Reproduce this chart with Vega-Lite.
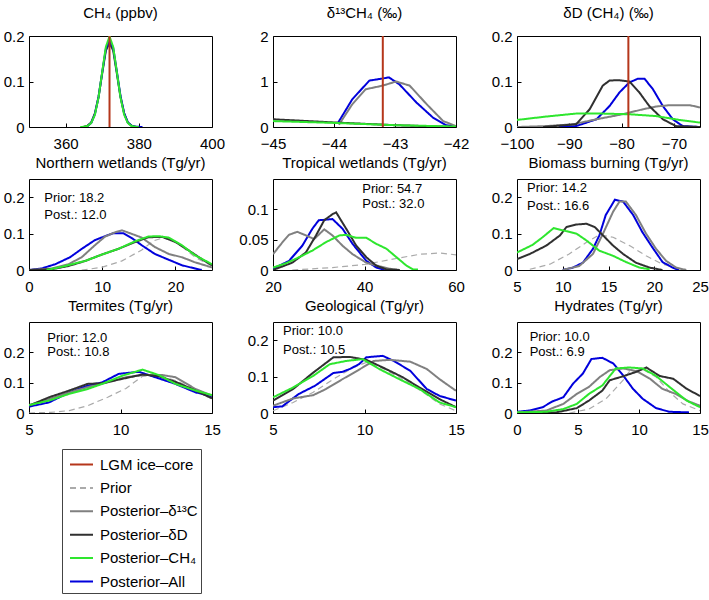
{
"$schema": "https://vega.github.io/schema/vega-lite/v6.json",
"padding": {"left": 2, "top": 5, "right": 2, "bottom": 2},
"config": {
  "font": "Liberation Sans",
  "view": {"stroke": "#000", "strokeWidth": 1},
  "axis": {"grid": false, "domain": false, "labelFontSize": 15, "labelColor": "#000", "tickColor": "#000", "tickSize": -4, "labelPadding": 11, "labelFlush": false, "labelOverlap": false, "labelFont": "Liberation Sans"},
  "axisX": {"labelFontSize": 15, "labelPadding": 13},
  "axisY": {"labelFontSize": 15, "labelPadding": 9},
  "title": {"fontSize": 15, "fontWeight": "normal", "offset": 8, "color": "#000", "font": "Liberation Sans"},
  "legend": {"symbolType": "stroke", "symbolSize": 529, "symbolStrokeWidth": 2, "labelFontSize": 15, "labelColor": "#000", "strokeColor": "#444", "padding": 3, "rowPadding": 2.4, "labelOffset": 6, "symbolOffset": 4}
},
"datasets": {
"n": [
{"p":4,"t":"Prior: 18.2","x":2.1,"y":0.199},{"p":4,"t":"Post.: 12.0","x":2.1,"y":0.15},
{"p":5,"t":"Prior: 54.7","x":39.5,"y":0.134},{"p":5,"t":"Post.: 32.0","x":39.5,"y":0.108},
{"p":6,"t":"Prior: 14.2","x":6.1,"y":0.225},{"p":6,"t":"Post.: 16.6","x":6.1,"y":0.175},
{"p":7,"t":"Prior: 12.0","x":6.0,"y":0.246},{"p":7,"t":"Post.: 10.8","x":6.0,"y":0.2},
{"p":8,"t":"Prior: 10.0","x":5.55,"y":0.224},{"p":8,"t":"Post.: 10.5","x":5.55,"y":0.174},
{"p":9,"t":"Prior: 10.0","x":1.04,"y":0.25},{"p":9,"t":"Post.: 6.9","x":1.04,"y":0.202}
],
"c": [
{"p":1,"s":"LGM ice–core","x":372,"y":0},
{"p":1,"s":"Posterior–δD","x":365,"y":0.0005},{"p":1,"s":"Posterior–δD","x":366,"y":0.003},{"p":1,"s":"Posterior–δD","x":367,"y":0.01},{"p":1,"s":"Posterior–δD","x":368,"y":0.03},{"p":1,"s":"Posterior–δD","x":369,"y":0.066},{"p":1,"s":"Posterior–δD","x":370,"y":0.118},{"p":1,"s":"Posterior–δD","x":371,"y":0.168},{"p":1,"s":"Posterior–δD","x":372,"y":0.185},{"p":1,"s":"Posterior–δD","x":373,"y":0.168},{"p":1,"s":"Posterior–δD","x":374,"y":0.118},{"p":1,"s":"Posterior–δD","x":375,"y":0.066},{"p":1,"s":"Posterior–δD","x":376,"y":0.03},{"p":1,"s":"Posterior–δD","x":377,"y":0.01},{"p":1,"s":"Posterior–δD","x":378,"y":0.003},{"p":1,"s":"Posterior–δD","x":379,"y":0.0005},
{"p":1,"s":"Posterior–All","x":366,"y":0.002},{"p":1,"s":"Posterior–All","x":367,"y":0.009},{"p":1,"s":"Posterior–All","x":368,"y":0.028},{"p":1,"s":"Posterior–All","x":369,"y":0.066},{"p":1,"s":"Posterior–All","x":370,"y":0.12},{"p":1,"s":"Posterior–All","x":371,"y":0.172},{"p":1,"s":"Posterior–All","x":372,"y":0.19},{"p":1,"s":"Posterior–All","x":373,"y":0.174},{"p":1,"s":"Posterior–All","x":374,"y":0.122},{"p":1,"s":"Posterior–All","x":375,"y":0.068},{"p":1,"s":"Posterior–All","x":376,"y":0.03},{"p":1,"s":"Posterior–All","x":377,"y":0.01},{"p":1,"s":"Posterior–All","x":378,"y":0.003},{"p":1,"s":"Posterior–All","x":379,"y":0.001},{"p":1,"s":"Posterior–All","x":381,"y":0},
{"p":1,"s":"Posterior–CH₄","x":364,"y":0.0001},{"p":1,"s":"Posterior–CH₄","x":365,"y":0.0004},{"p":1,"s":"Posterior–CH₄","x":366,"y":0.0022},{"p":1,"s":"Posterior–CH₄","x":367,"y":0.0088},{"p":1,"s":"Posterior–CH₄","x":368,"y":0.027},{"p":1,"s":"Posterior–CH₄","x":369,"y":0.065},{"p":1,"s":"Posterior–CH₄","x":370,"y":0.121},{"p":1,"s":"Posterior–CH₄","x":371,"y":0.176},{"p":1,"s":"Posterior–CH₄","x":372,"y":0.199},{"p":1,"s":"Posterior–CH₄","x":373,"y":0.176},{"p":1,"s":"Posterior–CH₄","x":374,"y":0.121},{"p":1,"s":"Posterior–CH₄","x":375,"y":0.065},{"p":1,"s":"Posterior–CH₄","x":376,"y":0.027},{"p":1,"s":"Posterior–CH₄","x":377,"y":0.0088},{"p":1,"s":"Posterior–CH₄","x":378,"y":0.0022},{"p":1,"s":"Posterior–CH₄","x":379,"y":0.0004},{"p":1,"s":"Posterior–CH₄","x":380,"y":0.0001},

{"p":2,"s":"LGM ice–core","x":-43.2,"y":0},
{"p":2,"s":"Posterior–All","x":-43.93,"y":0.1},{"p":2,"s":"Posterior–All","x":-43.7,"y":0.61},{"p":2,"s":"Posterior–All","x":-43.42,"y":1.02},{"p":2,"s":"Posterior–All","x":-43.23,"y":1.06},{"p":2,"s":"Posterior–All","x":-43.1,"y":1.09},{"p":2,"s":"Posterior–All","x":-42.93,"y":0.94},{"p":2,"s":"Posterior–All","x":-42.65,"y":0.54},{"p":2,"s":"Posterior–All","x":-42.38,"y":0.21},{"p":2,"s":"Posterior–All","x":-42.16,"y":0.04},{"p":2,"s":"Posterior–All","x":-42.0,"y":0.01},
{"p":2,"s":"Posterior–δ¹³C","x":-43.92,"y":0.05},{"p":2,"s":"Posterior–δ¹³C","x":-43.7,"y":0.5},{"p":2,"s":"Posterior–δ¹³C","x":-43.48,"y":0.83},{"p":2,"s":"Posterior–δ¹³C","x":-43.2,"y":0.91},{"p":2,"s":"Posterior–δ¹³C","x":-42.98,"y":1.0},{"p":2,"s":"Posterior–δ¹³C","x":-42.76,"y":0.91},{"p":2,"s":"Posterior–δ¹³C","x":-42.48,"y":0.5},{"p":2,"s":"Posterior–δ¹³C","x":-42.21,"y":0.13},{"p":2,"s":"Posterior–δ¹³C","x":-42.0,"y":0.02},
{"p":2,"s":"Posterior–δD","x":-45,"y":0.17},{"p":2,"s":"Posterior–δD","x":-44,"y":0.1},{"p":2,"s":"Posterior–δD","x":-43,"y":0.04},{"p":2,"s":"Posterior–δD","x":-42,"y":0.0},
{"p":2,"s":"Posterior–CH₄","x":-45,"y":0.13},{"p":2,"s":"Posterior–CH₄","x":-44,"y":0.09},{"p":2,"s":"Posterior–CH₄","x":-43,"y":0.04},{"p":2,"s":"Posterior–CH₄","x":-42,"y":0.01},

{"p":3,"s":"LGM ice–core","x":-78.7,"y":0},
{"p":3,"s":"Posterior–All","x":-92,"y":0},{"p":3,"s":"Posterior–All","x":-88.7,"y":0.002},{"p":3,"s":"Posterior–All","x":-84.8,"y":0.017},{"p":3,"s":"Posterior–All","x":-82.3,"y":0.046},{"p":3,"s":"Posterior–All","x":-80.4,"y":0.076},{"p":3,"s":"Posterior–All","x":-78.5,"y":0.098},{"p":3,"s":"Posterior–All","x":-76.9,"y":0.106},{"p":3,"s":"Posterior–All","x":-75.6,"y":0.106},{"p":3,"s":"Posterior–All","x":-74.0,"y":0.083},{"p":3,"s":"Posterior–All","x":-72.1,"y":0.046},{"p":3,"s":"Posterior–All","x":-70.2,"y":0.017},{"p":3,"s":"Posterior–All","x":-68.3,"y":0.002},{"p":3,"s":"Posterior–All","x":-65,"y":0},
{"p":3,"s":"Posterior–δ¹³C","x":-100,"y":0.0},{"p":3,"s":"Posterior–δ¹³C","x":-94.4,"y":0.002},{"p":3,"s":"Posterior–δ¹³C","x":-89.3,"y":0.006},{"p":3,"s":"Posterior–δ¹³C","x":-84.8,"y":0.017},{"p":3,"s":"Posterior–δ¹³C","x":-79.8,"y":0.028},{"p":3,"s":"Posterior–δ¹³C","x":-75.9,"y":0.039},{"p":3,"s":"Posterior–δ¹³C","x":-73.4,"y":0.045},{"p":3,"s":"Posterior–δ¹³C","x":-70.8,"y":0.048},{"p":3,"s":"Posterior–δ¹³C","x":-67,"y":0.048},{"p":3,"s":"Posterior–δ¹³C","x":-65,"y":0.043},
{"p":3,"s":"Posterior–δD","x":-95,"y":0},{"p":3,"s":"Posterior–δD","x":-88.7,"y":0.006},{"p":3,"s":"Posterior–δD","x":-86.1,"y":0.039},{"p":3,"s":"Posterior–δD","x":-83.6,"y":0.091},{"p":3,"s":"Posterior–δD","x":-82.3,"y":0.102},{"p":3,"s":"Posterior–δD","x":-80.7,"y":0.103},{"p":3,"s":"Posterior–δD","x":-78.5,"y":0.1},{"p":3,"s":"Posterior–δD","x":-76.6,"y":0.076},{"p":3,"s":"Posterior–δD","x":-74.7,"y":0.046},{"p":3,"s":"Posterior–δD","x":-72.1,"y":0.017},{"p":3,"s":"Posterior–δD","x":-69.6,"y":0.002},{"p":3,"s":"Posterior–δD","x":-65,"y":0},
{"p":3,"s":"Posterior–CH₄","x":-100,"y":0.0155},{"p":3,"s":"Posterior–CH₄","x":-94.4,"y":0.023},{"p":3,"s":"Posterior–CH₄","x":-88.7,"y":0.0295},{"p":3,"s":"Posterior–CH₄","x":-83.6,"y":0.0295},{"p":3,"s":"Posterior–CH₄","x":-78.5,"y":0.028},{"p":3,"s":"Posterior–CH₄","x":-73.4,"y":0.024},{"p":3,"s":"Posterior–CH₄","x":-68.9,"y":0.0155},{"p":3,"s":"Posterior–CH₄","x":-65,"y":0.0096},

{"p":4,"s":"Prior","x":7.2,"y":0},{"p":4,"s":"Prior","x":9.9,"y":0.007},{"p":4,"s":"Prior","x":12.7,"y":0.025},{"p":4,"s":"Prior","x":15.4,"y":0.055},{"p":4,"s":"Prior","x":17.0,"y":0.08},{"p":4,"s":"Prior","x":18.3,"y":0.088},{"p":4,"s":"Prior","x":19.5,"y":0.083},{"p":4,"s":"Prior","x":20.4,"y":0.072},{"p":4,"s":"Prior","x":22.7,"y":0.035},{"p":4,"s":"Prior","x":25,"y":0.011},
{"p":4,"s":"Posterior–All","x":0,"y":0},{"p":4,"s":"Posterior–All","x":1.7,"y":0.004},{"p":4,"s":"Posterior–All","x":3.6,"y":0.016},{"p":4,"s":"Posterior–All","x":5.6,"y":0.035},{"p":4,"s":"Posterior–All","x":7.2,"y":0.058},{"p":4,"s":"Posterior–All","x":9.0,"y":0.082},{"p":4,"s":"Posterior–All","x":10.4,"y":0.093},{"p":4,"s":"Posterior–All","x":11.5,"y":0.101},{"p":4,"s":"Posterior–All","x":12.9,"y":0.101},{"p":4,"s":"Posterior–All","x":14.1,"y":0.087},{"p":4,"s":"Posterior–All","x":15.4,"y":0.068},{"p":4,"s":"Posterior–All","x":17.2,"y":0.044},{"p":4,"s":"Posterior–All","x":19.1,"y":0.028},{"p":4,"s":"Posterior–All","x":20.9,"y":0.013},{"p":4,"s":"Posterior–All","x":22.7,"y":0.004},{"p":4,"s":"Posterior–All","x":23.6,"y":0},
{"p":4,"s":"Posterior–δ¹³C","x":0,"y":0},{"p":4,"s":"Posterior–δ¹³C","x":3.1,"y":0.004},{"p":4,"s":"Posterior–δ¹³C","x":5.4,"y":0.016},{"p":4,"s":"Posterior–δ¹³C","x":7.2,"y":0.035},{"p":4,"s":"Posterior–δ¹³C","x":9.0,"y":0.068},{"p":4,"s":"Posterior–δ¹³C","x":10.4,"y":0.092},{"p":4,"s":"Posterior–δ¹³C","x":11.8,"y":0.104},{"p":4,"s":"Posterior–δ¹³C","x":12.7,"y":0.109},{"p":4,"s":"Posterior–δ¹³C","x":13.8,"y":0.101},{"p":4,"s":"Posterior–δ¹³C","x":15.4,"y":0.089},{"p":4,"s":"Posterior–δ¹³C","x":17.2,"y":0.063},{"p":4,"s":"Posterior–δ¹³C","x":19.1,"y":0.044},{"p":4,"s":"Posterior–δ¹³C","x":20.9,"y":0.035},{"p":4,"s":"Posterior–δ¹³C","x":22.7,"y":0.021},{"p":4,"s":"Posterior–δ¹³C","x":25,"y":0.007},
{"p":4,"s":"Posterior–δD","x":0,"y":0},{"p":4,"s":"Posterior–δD","x":3.1,"y":0.002},{"p":4,"s":"Posterior–δD","x":5.4,"y":0.011},{"p":4,"s":"Posterior–δD","x":7.7,"y":0.025},{"p":4,"s":"Posterior–δD","x":9.9,"y":0.042},{"p":4,"s":"Posterior–δD","x":12.2,"y":0.058},{"p":4,"s":"Posterior–δD","x":14.5,"y":0.077},{"p":4,"s":"Posterior–δD","x":16.3,"y":0.09},{"p":4,"s":"Posterior–δD","x":18.2,"y":0.091},{"p":4,"s":"Posterior–δD","x":20.0,"y":0.077},{"p":4,"s":"Posterior–δD","x":21.8,"y":0.054},{"p":4,"s":"Posterior–δD","x":23.6,"y":0.03},{"p":4,"s":"Posterior–δD","x":25,"y":0.013},
{"p":4,"s":"Posterior–CH₄","x":2.4,"y":0},{"p":4,"s":"Posterior–CH₄","x":4.5,"y":0.009},{"p":4,"s":"Posterior–CH₄","x":7.7,"y":0.025},{"p":4,"s":"Posterior–CH₄","x":9.9,"y":0.042},{"p":4,"s":"Posterior–CH₄","x":12.2,"y":0.058},{"p":4,"s":"Posterior–CH₄","x":14.5,"y":0.079},{"p":4,"s":"Posterior–CH₄","x":16.3,"y":0.092},{"p":4,"s":"Posterior–CH₄","x":17.7,"y":0.093},{"p":4,"s":"Posterior–CH₄","x":19.1,"y":0.089},{"p":4,"s":"Posterior–CH₄","x":20.9,"y":0.068},{"p":4,"s":"Posterior–CH₄","x":22.7,"y":0.04},{"p":4,"s":"Posterior–CH₄","x":25,"y":0.016},

{"p":5,"s":"Prior","x":24.2,"y":0},{"p":5,"s":"Prior","x":33.0,"y":0.004},{"p":5,"s":"Prior","x":40.4,"y":0.0095},{"p":5,"s":"Prior","x":46.2,"y":0.018},{"p":5,"s":"Prior","x":52.1,"y":0.026},{"p":5,"s":"Prior","x":56.5,"y":0.028},{"p":5,"s":"Prior","x":60,"y":0.025},
{"p":5,"s":"Posterior–All","x":20,"y":0.002},{"p":5,"s":"Posterior–All","x":23.5,"y":0.015},{"p":5,"s":"Posterior–All","x":26.4,"y":0.04},{"p":5,"s":"Posterior–All","x":28.6,"y":0.068},{"p":5,"s":"Posterior–All","x":30.0,"y":0.082},{"p":5,"s":"Posterior–All","x":31.6,"y":0.083},{"p":5,"s":"Posterior–All","x":33.0,"y":0.084},{"p":5,"s":"Posterior–All","x":35.2,"y":0.068},{"p":5,"s":"Posterior–All","x":37.4,"y":0.043},{"p":5,"s":"Posterior–All","x":40.4,"y":0.015},{"p":5,"s":"Posterior–All","x":42.6,"y":0.004},{"p":5,"s":"Posterior–All","x":44.4,"y":0},
{"p":5,"s":"Posterior–δ¹³C","x":20,"y":0.026},{"p":5,"s":"Posterior–δ¹³C","x":22.1,"y":0.046},{"p":5,"s":"Posterior–δ¹³C","x":23.5,"y":0.058},{"p":5,"s":"Posterior–δ¹³C","x":25.3,"y":0.063},{"p":5,"s":"Posterior–δ¹³C","x":27.2,"y":0.057},{"p":5,"s":"Posterior–δ¹³C","x":29.0,"y":0.051},{"p":5,"s":"Posterior–δ¹³C","x":31.2,"y":0.067},{"p":5,"s":"Posterior–δ¹³C","x":33.0,"y":0.057},{"p":5,"s":"Posterior–δ¹³C","x":35.2,"y":0.04},{"p":5,"s":"Posterior–δ¹³C","x":37.4,"y":0.026},{"p":5,"s":"Posterior–δ¹³C","x":40.4,"y":0.012},{"p":5,"s":"Posterior–δ¹³C","x":43.3,"y":0.006},{"p":5,"s":"Posterior–δ¹³C","x":45.5,"y":0.002},{"p":5,"s":"Posterior–δ¹³C","x":47.7,"y":0},
{"p":5,"s":"Posterior–δD","x":20,"y":0},{"p":5,"s":"Posterior–δD","x":24.2,"y":0.012},{"p":5,"s":"Posterior–δD","x":27.2,"y":0.029},{"p":5,"s":"Posterior–δD","x":29.4,"y":0.057},{"p":5,"s":"Posterior–δD","x":31.2,"y":0.082},{"p":5,"s":"Posterior–δD","x":33.0,"y":0.092},{"p":5,"s":"Posterior–δD","x":33.8,"y":0.095},{"p":5,"s":"Posterior–δD","x":36.0,"y":0.068},{"p":5,"s":"Posterior–δD","x":38.2,"y":0.04},{"p":5,"s":"Posterior–δD","x":40.4,"y":0.021},{"p":5,"s":"Posterior–δD","x":42.6,"y":0.007},{"p":5,"s":"Posterior–δD","x":44.8,"y":0.001},{"p":5,"s":"Posterior–δD","x":47.7,"y":0},
{"p":5,"s":"Posterior–CH₄","x":20,"y":0.004},{"p":5,"s":"Posterior–CH₄","x":22.8,"y":0.011},{"p":5,"s":"Posterior–CH₄","x":25.7,"y":0.021},{"p":5,"s":"Posterior–CH₄","x":28.6,"y":0.032},{"p":5,"s":"Posterior–CH₄","x":31.6,"y":0.046},{"p":5,"s":"Posterior–CH₄","x":34.5,"y":0.057},{"p":5,"s":"Posterior–CH₄","x":36.0,"y":0.058},{"p":5,"s":"Posterior–CH₄","x":38.2,"y":0.053},{"p":5,"s":"Posterior–CH₄","x":40.4,"y":0.053},{"p":5,"s":"Posterior–CH₄","x":42.6,"y":0.043},{"p":5,"s":"Posterior–CH₄","x":44.8,"y":0.035},{"p":5,"s":"Posterior–CH₄","x":47.0,"y":0.021},{"p":5,"s":"Posterior–CH₄","x":49.2,"y":0.007},{"p":5,"s":"Posterior–CH₄","x":50.6,"y":0.001},{"p":5,"s":"Posterior–CH₄","x":51.7,"y":0.001},

{"p":6,"s":"Prior","x":6.4,"y":0.002},{"p":6,"s":"Prior","x":8.6,"y":0.016},{"p":6,"s":"Prior","x":10.7,"y":0.044},{"p":6,"s":"Prior","x":12.6,"y":0.076},{"p":6,"s":"Prior","x":14.0,"y":0.097},{"p":6,"s":"Prior","x":15.5,"y":0.09},{"p":6,"s":"Prior","x":17.3,"y":0.067},{"p":6,"s":"Prior","x":19.1,"y":0.039},{"p":6,"s":"Prior","x":20.9,"y":0.016},{"p":6,"s":"Prior","x":22.7,"y":0.004},
{"p":6,"s":"Posterior–All","x":10.0,"y":0},{"p":6,"s":"Posterior–All","x":11.1,"y":0.0065},{"p":6,"s":"Posterior–All","x":12.2,"y":0.02},{"p":6,"s":"Posterior–All","x":13.3,"y":0.058},{"p":6,"s":"Posterior–All","x":14.0,"y":0.095},{"p":6,"s":"Posterior–All","x":14.7,"y":0.151},{"p":6,"s":"Posterior–All","x":15.7,"y":0.193},{"p":6,"s":"Posterior–All","x":16.6,"y":0.188},{"p":6,"s":"Posterior–All","x":17.7,"y":0.151},{"p":6,"s":"Posterior–All","x":18.7,"y":0.104},{"p":6,"s":"Posterior–All","x":19.8,"y":0.062},{"p":6,"s":"Posterior–All","x":20.9,"y":0.022},{"p":6,"s":"Posterior–All","x":22.0,"y":0.0065},{"p":6,"s":"Posterior–All","x":22.7,"y":0},
{"p":6,"s":"Posterior–δ¹³C","x":10.0,"y":0},{"p":6,"s":"Posterior–δ¹³C","x":11.8,"y":0.011},{"p":6,"s":"Posterior–δ¹³C","x":13.3,"y":0.044},{"p":6,"s":"Posterior–δ¹³C","x":14.4,"y":0.1},{"p":6,"s":"Posterior–δ¹³C","x":15.5,"y":0.16},{"p":6,"s":"Posterior–δ¹³C","x":16.2,"y":0.188},{"p":6,"s":"Posterior–δ¹³C","x":16.9,"y":0.188},{"p":6,"s":"Posterior–δ¹³C","x":18.0,"y":0.151},{"p":6,"s":"Posterior–δ¹³C","x":19.1,"y":0.1},{"p":6,"s":"Posterior–δ¹³C","x":20.2,"y":0.058},{"p":6,"s":"Posterior–δ¹³C","x":21.3,"y":0.025},{"p":6,"s":"Posterior–δ¹³C","x":22.4,"y":0.0065},{"p":6,"s":"Posterior–δ¹³C","x":23.5,"y":0},
{"p":6,"s":"Posterior–δD","x":5,"y":0.03},{"p":6,"s":"Posterior–δD","x":6.4,"y":0.044},{"p":6,"s":"Posterior–δD","x":8.2,"y":0.067},{"p":6,"s":"Posterior–δD","x":9.7,"y":0.095},{"p":6,"s":"Posterior–δD","x":10.4,"y":0.118},{"p":6,"s":"Posterior–δD","x":11.5,"y":0.125},{"p":6,"s":"Posterior–δD","x":12.6,"y":0.127},{"p":6,"s":"Posterior–δD","x":13.5,"y":0.118},{"p":6,"s":"Posterior–δD","x":14.4,"y":0.095},{"p":6,"s":"Posterior–δD","x":15.5,"y":0.067},{"p":6,"s":"Posterior–δD","x":16.6,"y":0.044},{"p":6,"s":"Posterior–δD","x":18.0,"y":0.02},{"p":6,"s":"Posterior–δD","x":19.5,"y":0.0065},{"p":6,"s":"Posterior–δD","x":20.9,"y":0},
{"p":6,"s":"Posterior–CH₄","x":5,"y":0.048},{"p":6,"s":"Posterior–CH₄","x":6.7,"y":0.069},{"p":6,"s":"Posterior–CH₄","x":7.8,"y":0.09},{"p":6,"s":"Posterior–CH₄","x":9.0,"y":0.115},{"p":6,"s":"Posterior–CH₄","x":10.0,"y":0.109},{"p":6,"s":"Posterior–CH₄","x":11.5,"y":0.1},{"p":6,"s":"Posterior–CH₄","x":12.6,"y":0.081},{"p":6,"s":"Posterior–CH₄","x":14.0,"y":0.053},{"p":6,"s":"Posterior–CH₄","x":15.5,"y":0.039},{"p":6,"s":"Posterior–CH₄","x":16.9,"y":0.022},{"p":6,"s":"Posterior–CH₄","x":18.4,"y":0.0065},{"p":6,"s":"Posterior–CH₄","x":19.5,"y":0.002},

{"p":7,"s":"Prior","x":5,"y":0},{"p":7,"s":"Prior","x":6.2,"y":0.002},{"p":7,"s":"Prior","x":7.2,"y":0.008},{"p":7,"s":"Prior","x":8.2,"y":0.024},{"p":7,"s":"Prior","x":9.3,"y":0.052},{"p":7,"s":"Prior","x":10.3,"y":0.081},{"p":7,"s":"Prior","x":11.2,"y":0.121},{"p":7,"s":"Prior","x":12.1,"y":0.125},{"p":7,"s":"Prior","x":13.0,"y":0.107},{"p":7,"s":"Prior","x":14.1,"y":0.079},{"p":7,"s":"Prior","x":15,"y":0.057},
{"p":7,"s":"Posterior–All","x":5,"y":0.021},{"p":7,"s":"Posterior–All","x":6.1,"y":0.035},{"p":7,"s":"Posterior–All","x":7.2,"y":0.068},{"p":7,"s":"Posterior–All","x":8.2,"y":0.09},{"p":7,"s":"Posterior–All","x":9.0,"y":0.101},{"p":7,"s":"Posterior–All","x":9.9,"y":0.129},{"p":7,"s":"Posterior–All","x":11.0,"y":0.136},{"p":7,"s":"Posterior–All","x":11.9,"y":0.118},{"p":7,"s":"Posterior–All","x":13.0,"y":0.096},{"p":7,"s":"Posterior–All","x":14.1,"y":0.068},{"p":7,"s":"Posterior–All","x":15,"y":0.055},
{"p":7,"s":"Posterior–δ¹³C","x":5,"y":0.026},{"p":7,"s":"Posterior–δ¹³C","x":6.1,"y":0.046},{"p":7,"s":"Posterior–δ¹³C","x":7.2,"y":0.068},{"p":7,"s":"Posterior–δ¹³C","x":8.2,"y":0.085},{"p":7,"s":"Posterior–δ¹³C","x":9.3,"y":0.101},{"p":7,"s":"Posterior–δ¹³C","x":10.3,"y":0.118},{"p":7,"s":"Posterior–δ¹³C","x":11.2,"y":0.125},{"p":7,"s":"Posterior–δ¹³C","x":12.3,"y":0.125},{"p":7,"s":"Posterior–δ¹³C","x":13.0,"y":0.118},{"p":7,"s":"Posterior–δ¹³C","x":14.1,"y":0.079},{"p":7,"s":"Posterior–δ¹³C","x":15,"y":0.057},
{"p":7,"s":"Posterior–δD","x":5,"y":0.024},{"p":7,"s":"Posterior–δD","x":6.1,"y":0.052},{"p":7,"s":"Posterior–δD","x":7.2,"y":0.074},{"p":7,"s":"Posterior–δD","x":8.2,"y":0.096},{"p":7,"s":"Posterior–δD","x":9.0,"y":0.098},{"p":7,"s":"Posterior–δD","x":9.9,"y":0.11},{"p":7,"s":"Posterior–δD","x":11.2,"y":0.127},{"p":7,"s":"Posterior–δD","x":12.1,"y":0.121},{"p":7,"s":"Posterior–δD","x":13.0,"y":0.103},{"p":7,"s":"Posterior–δD","x":14.1,"y":0.074},{"p":7,"s":"Posterior–δD","x":15,"y":0.048},
{"p":7,"s":"Posterior–CH₄","x":5,"y":0.026},{"p":7,"s":"Posterior–CH₄","x":6.1,"y":0.041},{"p":7,"s":"Posterior–CH₄","x":7.2,"y":0.063},{"p":7,"s":"Posterior–CH₄","x":8.2,"y":0.079},{"p":7,"s":"Posterior–CH₄","x":9.0,"y":0.096},{"p":7,"s":"Posterior–CH₄","x":10.1,"y":0.123},{"p":7,"s":"Posterior–CH₄","x":11.2,"y":0.143},{"p":7,"s":"Posterior–CH₄","x":12.1,"y":0.125},{"p":7,"s":"Posterior–CH₄","x":13.0,"y":0.096},{"p":7,"s":"Posterior–CH₄","x":14.1,"y":0.074},{"p":7,"s":"Posterior–CH₄","x":15,"y":0.059},

{"p":8,"s":"Prior","x":5,"y":0.006},{"p":8,"s":"Prior","x":6.1,"y":0.029},{"p":8,"s":"Prior","x":7.2,"y":0.057},{"p":8,"s":"Prior","x":8.3,"y":0.093},{"p":8,"s":"Prior","x":9.4,"y":0.125},{"p":8,"s":"Prior","x":10.1,"y":0.139},{"p":8,"s":"Prior","x":11.0,"y":0.122},{"p":8,"s":"Prior","x":12.1,"y":0.093},{"p":8,"s":"Prior","x":13.2,"y":0.057},{"p":8,"s":"Prior","x":14.1,"y":0.025},{"p":8,"s":"Prior","x":15,"y":0.006},
{"p":8,"s":"Posterior–All","x":5,"y":0.016},{"p":8,"s":"Posterior–All","x":5.5,"y":0.018},{"p":8,"s":"Posterior–All","x":6.4,"y":0.052},{"p":8,"s":"Posterior–All","x":7.3,"y":0.075},{"p":8,"s":"Posterior–All","x":8.3,"y":0.11},{"p":8,"s":"Posterior–All","x":8.8,"y":0.113},{"p":8,"s":"Posterior–All","x":9.2,"y":0.121},{"p":8,"s":"Posterior–All","x":9.7,"y":0.134},{"p":8,"s":"Posterior–All","x":10.1,"y":0.153},{"p":8,"s":"Posterior–All","x":11.0,"y":0.157},{"p":8,"s":"Posterior–All","x":11.6,"y":0.143},{"p":8,"s":"Posterior–All","x":12.5,"y":0.116},{"p":8,"s":"Posterior–All","x":13.4,"y":0.066},{"p":8,"s":"Posterior–All","x":14.1,"y":0.047},{"p":8,"s":"Posterior–All","x":15,"y":0.034},
{"p":8,"s":"Posterior–δ¹³C","x":5,"y":0.02},{"p":8,"s":"Posterior–δ¹³C","x":6.1,"y":0.04},{"p":8,"s":"Posterior–δ¹³C","x":7.2,"y":0.049},{"p":8,"s":"Posterior–δ¹³C","x":7.9,"y":0.066},{"p":8,"s":"Posterior–δ¹³C","x":8.8,"y":0.093},{"p":8,"s":"Posterior–δ¹³C","x":9.7,"y":0.119},{"p":8,"s":"Posterior–δ¹³C","x":10.5,"y":0.143},{"p":8,"s":"Posterior–δ¹³C","x":11.4,"y":0.146},{"p":8,"s":"Posterior–δ¹³C","x":12.5,"y":0.141},{"p":8,"s":"Posterior–δ¹³C","x":13.4,"y":0.121},{"p":8,"s":"Posterior–δ¹³C","x":14.1,"y":0.093},{"p":8,"s":"Posterior–δ¹³C","x":15,"y":0.061},
{"p":8,"s":"Posterior–δD","x":5,"y":0.034},{"p":8,"s":"Posterior–δD","x":6.1,"y":0.066},{"p":8,"s":"Posterior–δD","x":7.2,"y":0.111},{"p":8,"s":"Posterior–δD","x":8.3,"y":0.153},{"p":8,"s":"Posterior–δD","x":9.2,"y":0.154},{"p":8,"s":"Posterior–δD","x":10.1,"y":0.146},{"p":8,"s":"Posterior–δD","x":11.0,"y":0.125},{"p":8,"s":"Posterior–δD","x":12.1,"y":0.098},{"p":8,"s":"Posterior–δD","x":13.0,"y":0.07},{"p":8,"s":"Posterior–δD","x":14.1,"y":0.038},{"p":8,"s":"Posterior–δD","x":15,"y":0.016},
{"p":8,"s":"Posterior–CH₄","x":5,"y":0.043},{"p":8,"s":"Posterior–CH₄","x":6.1,"y":0.07},{"p":8,"s":"Posterior–CH₄","x":7.2,"y":0.102},{"p":8,"s":"Posterior–CH₄","x":8.1,"y":0.134},{"p":8,"s":"Posterior–CH₄","x":9.0,"y":0.143},{"p":8,"s":"Posterior–CH₄","x":9.9,"y":0.148},{"p":8,"s":"Posterior–CH₄","x":10.8,"y":0.121},{"p":8,"s":"Posterior–CH₄","x":11.9,"y":0.093},{"p":8,"s":"Posterior–CH₄","x":13.0,"y":0.066},{"p":8,"s":"Posterior–CH₄","x":14.1,"y":0.029},{"p":8,"s":"Posterior–CH₄","x":15,"y":0.016},

{"p":9,"s":"Prior","x":4.3,"y":0},{"p":9,"s":"Prior","x":5.9,"y":0.013},{"p":9,"s":"Prior","x":7.3,"y":0.047},{"p":9,"s":"Prior","x":8.7,"y":0.108},{"p":9,"s":"Prior","x":9.2,"y":0.136},{"p":9,"s":"Prior","x":10.3,"y":0.144},{"p":9,"s":"Prior","x":11.4,"y":0.119},{"p":9,"s":"Prior","x":12.5,"y":0.069},{"p":9,"s":"Prior","x":13.6,"y":0.03},{"p":9,"s":"Prior","x":15,"y":0.008},
{"p":9,"s":"Posterior–All","x":0,"y":0.004},{"p":9,"s":"Posterior–All","x":1.0,"y":0.008},{"p":9,"s":"Posterior–All","x":2.1,"y":0.019},{"p":9,"s":"Posterior–All","x":2.9,"y":0.038},{"p":9,"s":"Posterior–All","x":3.8,"y":0.052},{"p":9,"s":"Posterior–All","x":4.6,"y":0.097},{"p":9,"s":"Posterior–All","x":5.4,"y":0.13},{"p":9,"s":"Posterior–All","x":6.1,"y":0.178},{"p":9,"s":"Posterior–All","x":7.0,"y":0.182},{"p":9,"s":"Posterior–All","x":7.9,"y":0.163},{"p":9,"s":"Posterior–All","x":8.7,"y":0.124},{"p":9,"s":"Posterior–All","x":9.5,"y":0.08},{"p":9,"s":"Posterior–All","x":10.3,"y":0.047},{"p":9,"s":"Posterior–All","x":11.4,"y":0.016},{"p":9,"s":"Posterior–All","x":12.5,"y":0.004},{"p":9,"s":"Posterior–All","x":14.1,"y":0.002},
{"p":9,"s":"Posterior–δ¹³C","x":0,"y":0.002},{"p":9,"s":"Posterior–δ¹³C","x":2.4,"y":0.008},{"p":9,"s":"Posterior–δ¹³C","x":3.8,"y":0.03},{"p":9,"s":"Posterior–δ¹³C","x":4.9,"y":0.063},{"p":9,"s":"Posterior–δ¹³C","x":5.9,"y":0.086},{"p":9,"s":"Posterior–δ¹³C","x":6.8,"y":0.119},{"p":9,"s":"Posterior–δ¹³C","x":7.6,"y":0.141},{"p":9,"s":"Posterior–δ¹³C","x":8.7,"y":0.147},{"p":9,"s":"Posterior–δ¹³C","x":9.8,"y":0.138},{"p":9,"s":"Posterior–δ¹³C","x":10.9,"y":0.113},{"p":9,"s":"Posterior–δ¹³C","x":11.9,"y":0.08},{"p":9,"s":"Posterior–δ¹³C","x":13.0,"y":0.063},{"p":9,"s":"Posterior–δ¹³C","x":14.1,"y":0.038},{"p":9,"s":"Posterior–δ¹³C","x":15,"y":0.024},
{"p":9,"s":"Posterior–δD","x":0,"y":0},{"p":9,"s":"Posterior–δD","x":3.2,"y":0.002},{"p":9,"s":"Posterior–δD","x":4.9,"y":0.016},{"p":9,"s":"Posterior–δD","x":5.9,"y":0.041},{"p":9,"s":"Posterior–δD","x":7.0,"y":0.074},{"p":9,"s":"Posterior–δD","x":7.6,"y":0.108},{"p":9,"s":"Posterior–δD","x":8.7,"y":0.121},{"p":9,"s":"Posterior–δD","x":9.8,"y":0.136},{"p":9,"s":"Posterior–δD","x":10.6,"y":0.15},{"p":9,"s":"Posterior–δD","x":11.7,"y":0.122},{"p":9,"s":"Posterior–δD","x":12.8,"y":0.113},{"p":9,"s":"Posterior–δD","x":13.9,"y":0.08},{"p":9,"s":"Posterior–δD","x":15,"y":0.056},
{"p":9,"s":"Posterior–CH₄","x":0,"y":0.002},{"p":9,"s":"Posterior–CH₄","x":2.4,"y":0.004},{"p":9,"s":"Posterior–CH₄","x":3.8,"y":0.013},{"p":9,"s":"Posterior–CH₄","x":4.9,"y":0.03},{"p":9,"s":"Posterior–CH₄","x":5.9,"y":0.063},{"p":9,"s":"Posterior–CH₄","x":7.0,"y":0.091},{"p":9,"s":"Posterior–CH₄","x":8.1,"y":0.147},{"p":9,"s":"Posterior–CH₄","x":9.2,"y":0.15},{"p":9,"s":"Posterior–CH₄","x":10.3,"y":0.147},{"p":9,"s":"Posterior–CH₄","x":11.4,"y":0.122},{"p":9,"s":"Posterior–CH₄","x":12.5,"y":0.086},{"p":9,"s":"Posterior–CH₄","x":13.9,"y":0.041},{"p":9,"s":"Posterior–CH₄","x":15,"y":0.019}
]
},
"columns": 3,
"bounds": "flush",
"spacing": {"row": 52, "column": 61},
"resolve": {"scale": {"color": "shared", "strokeDash": "shared"}, "legend": {"color": "shared", "strokeDash": "shared"}},
"concat": [
{"title": {"text": "CH₄ (ppbv)", "fontSize": 15}, "width": 183, "height": 91, "layer": [
 {"data": {"name": "c"}, "transform": [{"filter": "datum.p == 1 && datum.s != 'LGM ice–core'"}], "mark": {"type": "line", "strokeWidth": 2, "clip": true},
  "encoding": {"x": {"field": "x", "type": "quantitative", "title": null, "scale": {"domain": [350, 400], "nice": false, "zero": false}, "axis": {"values": [360, 380, 400], "format": "~r"}},
   "y": {"field": "y", "type": "quantitative", "title": null, "scale": {"domain": [0, 0.2], "nice": false}, "axis": {"values": [0, 0.1, 0.2], "format": "~r"}},
   "color": {"field": "s", "type": "nominal", "scale": {"domain": ["LGM ice–core", "Prior", "Posterior–δ¹³C", "Posterior–δD", "Posterior–CH₄", "Posterior–All"], "range": ["#b5361b", "#aaaaaa", "#808080", "#303030", "#2ee62e", "#0000dc"]}, "legend": {"orient": "none", "legendX": 33, "legendY": 413, "title": null}},
   "strokeDash": {"field": "s", "type": "nominal", "scale": {"domain": ["LGM ice–core", "Prior", "Posterior–δ¹³C", "Posterior–δD", "Posterior–CH₄", "Posterior–All"], "range": [[1, 0], [6, 4], [1, 0], [1, 0], [1, 0], [1, 0]]}, "legend": {"orient": "none", "legendX": 33, "legendY": 413, "title": null}}}},
 {"data": {"name": "c"}, "transform": [{"filter": "datum.p == 1 && datum.s == 'LGM ice–core'"}], "mark": {"type": "rule", "strokeWidth": 2},
  "encoding": {"x": {"field": "x", "type": "quantitative", "title": null, "scale": {"domain": [350, 400], "nice": false, "zero": false}},
   "color": {"field": "s", "type": "nominal", "scale": {"domain": ["LGM ice–core", "Prior", "Posterior–δ¹³C", "Posterior–δD", "Posterior–CH₄", "Posterior–All"], "range": ["#b5361b", "#aaaaaa", "#808080", "#303030", "#2ee62e", "#0000dc"]}, "legend": {"orient": "none", "legendX": 33, "legendY": 413, "title": null}}}}
]},
{"title": {"text": "δ¹³CH₄ (‰)", "fontSize": 15}, "width": 183, "height": 91, "layer": [
 {"data": {"name": "c"}, "transform": [{"filter": "datum.p == 2 && datum.s != 'LGM ice–core'"}], "mark": {"type": "line", "strokeWidth": 2, "clip": true},
  "encoding": {"x": {"field": "x", "type": "quantitative", "title": null, "scale": {"domain": [-45, -42], "nice": false, "zero": false}, "axis": {"values": [-45, -44, -43, -42], "format": "~r"}},
   "y": {"field": "y", "type": "quantitative", "title": null, "scale": {"domain": [0, 2], "nice": false}, "axis": {"values": [0, 1, 2], "format": "~r"}},
   "color": {"field": "s", "type": "nominal", "scale": {"domain": ["LGM ice–core", "Prior", "Posterior–δ¹³C", "Posterior–δD", "Posterior–CH₄", "Posterior–All"], "range": ["#b5361b", "#aaaaaa", "#808080", "#303030", "#2ee62e", "#0000dc"]}, "legend": {"orient": "none", "legendX": 33, "legendY": 413, "title": null}},
   "strokeDash": {"field": "s", "type": "nominal", "scale": {"domain": ["LGM ice–core", "Prior", "Posterior–δ¹³C", "Posterior–δD", "Posterior–CH₄", "Posterior–All"], "range": [[1, 0], [6, 4], [1, 0], [1, 0], [1, 0], [1, 0]]}, "legend": {"orient": "none", "legendX": 33, "legendY": 413, "title": null}}}},
 {"data": {"name": "c"}, "transform": [{"filter": "datum.p == 2 && datum.s == 'LGM ice–core'"}], "mark": {"type": "rule", "strokeWidth": 2},
  "encoding": {"x": {"field": "x", "type": "quantitative", "title": null, "scale": {"domain": [-45, -42], "nice": false, "zero": false}},
   "color": {"field": "s", "type": "nominal", "scale": {"domain": ["LGM ice–core", "Prior", "Posterior–δ¹³C", "Posterior–δD", "Posterior–CH₄", "Posterior–All"], "range": ["#b5361b", "#aaaaaa", "#808080", "#303030", "#2ee62e", "#0000dc"]}, "legend": {"orient": "none", "legendX": 33, "legendY": 413, "title": null}}}}
]},
{"title": {"text": "δD (CH₄) (‰)", "fontSize": 15}, "width": 183, "height": 91, "layer": [
 {"data": {"name": "c"}, "transform": [{"filter": "datum.p == 3 && datum.s != 'LGM ice–core'"}], "mark": {"type": "line", "strokeWidth": 2, "clip": true},
  "encoding": {"x": {"field": "x", "type": "quantitative", "title": null, "scale": {"domain": [-100, -65], "nice": false, "zero": false}, "axis": {"values": [-100, -90, -80, -70], "format": "~r"}},
   "y": {"field": "y", "type": "quantitative", "title": null, "scale": {"domain": [0, 0.2], "nice": false}, "axis": {"values": [0, 0.1, 0.2], "format": "~r"}},
   "color": {"field": "s", "type": "nominal", "scale": {"domain": ["LGM ice–core", "Prior", "Posterior–δ¹³C", "Posterior–δD", "Posterior–CH₄", "Posterior–All"], "range": ["#b5361b", "#aaaaaa", "#808080", "#303030", "#2ee62e", "#0000dc"]}, "legend": {"orient": "none", "legendX": 33, "legendY": 413, "title": null}},
   "strokeDash": {"field": "s", "type": "nominal", "scale": {"domain": ["LGM ice–core", "Prior", "Posterior–δ¹³C", "Posterior–δD", "Posterior–CH₄", "Posterior–All"], "range": [[1, 0], [6, 4], [1, 0], [1, 0], [1, 0], [1, 0]]}, "legend": {"orient": "none", "legendX": 33, "legendY": 413, "title": null}}}},
 {"data": {"name": "c"}, "transform": [{"filter": "datum.p == 3 && datum.s == 'LGM ice–core'"}], "mark": {"type": "rule", "strokeWidth": 2},
  "encoding": {"x": {"field": "x", "type": "quantitative", "title": null, "scale": {"domain": [-100, -65], "nice": false, "zero": false}},
   "color": {"field": "s", "type": "nominal", "scale": {"domain": ["LGM ice–core", "Prior", "Posterior–δ¹³C", "Posterior–δD", "Posterior–CH₄", "Posterior–All"], "range": ["#b5361b", "#aaaaaa", "#808080", "#303030", "#2ee62e", "#0000dc"]}, "legend": {"orient": "none", "legendX": 33, "legendY": 413, "title": null}}}}
]},
{"title": {"text": "Northern wetlands (Tg/yr)", "fontSize": 15}, "width": 183, "height": 91, "layer": [
 {"data": {"name": "c"}, "transform": [{"filter": "datum.p == 4 && datum.s == 'Prior'"}], "mark": {"type": "line", "strokeWidth": 1.2, "clip": true},
  "encoding": {"x": {"field": "x", "type": "quantitative", "title": null, "scale": {"domain": [0, 25], "nice": false, "zero": false}, "axis": {"values": [0, 10, 20], "format": "~r"}},
   "y": {"field": "y", "type": "quantitative", "title": null, "scale": {"domain": [0, 0.25], "nice": false}, "axis": {"values": [0, 0.1, 0.2], "format": "~r"}},
   "color": {"field": "s", "type": "nominal", "scale": {"domain": ["LGM ice–core", "Prior", "Posterior–δ¹³C", "Posterior–δD", "Posterior–CH₄", "Posterior–All"], "range": ["#b5361b", "#aaaaaa", "#808080", "#303030", "#2ee62e", "#0000dc"]}, "legend": {"orient": "none", "legendX": 33, "legendY": 413, "title": null}},
   "strokeDash": {"field": "s", "type": "nominal", "scale": {"domain": ["LGM ice–core", "Prior", "Posterior–δ¹³C", "Posterior–δD", "Posterior–CH₄", "Posterior–All"], "range": [[1, 0], [6, 4], [1, 0], [1, 0], [1, 0], [1, 0]]}, "legend": {"orient": "none", "legendX": 33, "legendY": 413, "title": null}}}},
 {"data": {"name": "c"}, "transform": [{"filter": "datum.p == 4 && datum.s != 'Prior'"}], "mark": {"type": "line", "strokeWidth": 2, "clip": true},
  "encoding": {"x": {"field": "x", "type": "quantitative", "title": null, "scale": {"domain": [0, 25], "nice": false, "zero": false}},
   "y": {"field": "y", "type": "quantitative", "title": null, "scale": {"domain": [0, 0.25], "nice": false}},
   "color": {"field": "s", "type": "nominal", "scale": {"domain": ["LGM ice–core", "Prior", "Posterior–δ¹³C", "Posterior–δD", "Posterior–CH₄", "Posterior–All"], "range": ["#b5361b", "#aaaaaa", "#808080", "#303030", "#2ee62e", "#0000dc"]}, "legend": {"orient": "none", "legendX": 33, "legendY": 413, "title": null}},
   "strokeDash": {"field": "s", "type": "nominal", "scale": {"domain": ["LGM ice–core", "Prior", "Posterior–δ¹³C", "Posterior–δD", "Posterior–CH₄", "Posterior–All"], "range": [[1, 0], [6, 4], [1, 0], [1, 0], [1, 0], [1, 0]]}, "legend": {"orient": "none", "legendX": 33, "legendY": 413, "title": null}}}},
 {"data": {"name": "n"}, "transform": [{"filter": "datum.p == 4"}], "mark": {"type": "text", "align": "left", "baseline": "middle", "fontSize": 13, "color": "#000"},
  "encoding": {"x": {"field": "x", "type": "quantitative", "title": null, "scale": {"domain": [0, 25], "nice": false, "zero": false}},
   "y": {"field": "y", "type": "quantitative", "title": null, "scale": {"domain": [0, 0.25], "nice": false}}, "text": {"field": "t"}}}
]},
{"title": {"text": "Tropical wetlands (Tg/yr)", "fontSize": 15}, "width": 183, "height": 91, "layer": [
 {"data": {"name": "c"}, "transform": [{"filter": "datum.p == 5 && datum.s == 'Prior'"}], "mark": {"type": "line", "strokeWidth": 1.2, "clip": true},
  "encoding": {"x": {"field": "x", "type": "quantitative", "title": null, "scale": {"domain": [20, 60], "nice": false, "zero": false}, "axis": {"values": [20, 40, 60], "format": "~r"}},
   "y": {"field": "y", "type": "quantitative", "title": null, "scale": {"domain": [0, 0.15], "nice": false}, "axis": {"values": [0, 0.05, 0.1], "format": "~r"}},
   "color": {"field": "s", "type": "nominal", "scale": {"domain": ["LGM ice–core", "Prior", "Posterior–δ¹³C", "Posterior–δD", "Posterior–CH₄", "Posterior–All"], "range": ["#b5361b", "#aaaaaa", "#808080", "#303030", "#2ee62e", "#0000dc"]}, "legend": {"orient": "none", "legendX": 33, "legendY": 413, "title": null}},
   "strokeDash": {"field": "s", "type": "nominal", "scale": {"domain": ["LGM ice–core", "Prior", "Posterior–δ¹³C", "Posterior–δD", "Posterior–CH₄", "Posterior–All"], "range": [[1, 0], [6, 4], [1, 0], [1, 0], [1, 0], [1, 0]]}, "legend": {"orient": "none", "legendX": 33, "legendY": 413, "title": null}}}},
 {"data": {"name": "c"}, "transform": [{"filter": "datum.p == 5 && datum.s != 'Prior'"}], "mark": {"type": "line", "strokeWidth": 2, "clip": true},
  "encoding": {"x": {"field": "x", "type": "quantitative", "title": null, "scale": {"domain": [20, 60], "nice": false, "zero": false}},
   "y": {"field": "y", "type": "quantitative", "title": null, "scale": {"domain": [0, 0.15], "nice": false}},
   "color": {"field": "s", "type": "nominal", "scale": {"domain": ["LGM ice–core", "Prior", "Posterior–δ¹³C", "Posterior–δD", "Posterior–CH₄", "Posterior–All"], "range": ["#b5361b", "#aaaaaa", "#808080", "#303030", "#2ee62e", "#0000dc"]}, "legend": {"orient": "none", "legendX": 33, "legendY": 413, "title": null}},
   "strokeDash": {"field": "s", "type": "nominal", "scale": {"domain": ["LGM ice–core", "Prior", "Posterior–δ¹³C", "Posterior–δD", "Posterior–CH₄", "Posterior–All"], "range": [[1, 0], [6, 4], [1, 0], [1, 0], [1, 0], [1, 0]]}, "legend": {"orient": "none", "legendX": 33, "legendY": 413, "title": null}}}},
 {"data": {"name": "n"}, "transform": [{"filter": "datum.p == 5"}], "mark": {"type": "text", "align": "left", "baseline": "middle", "fontSize": 13, "color": "#000"},
  "encoding": {"x": {"field": "x", "type": "quantitative", "title": null, "scale": {"domain": [20, 60], "nice": false, "zero": false}},
   "y": {"field": "y", "type": "quantitative", "title": null, "scale": {"domain": [0, 0.15], "nice": false}}, "text": {"field": "t"}}}
]},
{"title": {"text": "Biomass burning (Tg/yr)", "fontSize": 15}, "width": 183, "height": 91, "layer": [
 {"data": {"name": "c"}, "transform": [{"filter": "datum.p == 6 && datum.s == 'Prior'"}], "mark": {"type": "line", "strokeWidth": 1.2, "clip": true},
  "encoding": {"x": {"field": "x", "type": "quantitative", "title": null, "scale": {"domain": [5, 25], "nice": false, "zero": false}, "axis": {"values": [5, 10, 15, 20, 25], "format": "~r"}},
   "y": {"field": "y", "type": "quantitative", "title": null, "scale": {"domain": [0, 0.25], "nice": false}, "axis": {"values": [0, 0.1, 0.2], "format": "~r"}},
   "color": {"field": "s", "type": "nominal", "scale": {"domain": ["LGM ice–core", "Prior", "Posterior–δ¹³C", "Posterior–δD", "Posterior–CH₄", "Posterior–All"], "range": ["#b5361b", "#aaaaaa", "#808080", "#303030", "#2ee62e", "#0000dc"]}, "legend": {"orient": "none", "legendX": 33, "legendY": 413, "title": null}},
   "strokeDash": {"field": "s", "type": "nominal", "scale": {"domain": ["LGM ice–core", "Prior", "Posterior–δ¹³C", "Posterior–δD", "Posterior–CH₄", "Posterior–All"], "range": [[1, 0], [6, 4], [1, 0], [1, 0], [1, 0], [1, 0]]}, "legend": {"orient": "none", "legendX": 33, "legendY": 413, "title": null}}}},
 {"data": {"name": "c"}, "transform": [{"filter": "datum.p == 6 && datum.s != 'Prior'"}], "mark": {"type": "line", "strokeWidth": 2, "clip": true},
  "encoding": {"x": {"field": "x", "type": "quantitative", "title": null, "scale": {"domain": [5, 25], "nice": false, "zero": false}},
   "y": {"field": "y", "type": "quantitative", "title": null, "scale": {"domain": [0, 0.25], "nice": false}},
   "color": {"field": "s", "type": "nominal", "scale": {"domain": ["LGM ice–core", "Prior", "Posterior–δ¹³C", "Posterior–δD", "Posterior–CH₄", "Posterior–All"], "range": ["#b5361b", "#aaaaaa", "#808080", "#303030", "#2ee62e", "#0000dc"]}, "legend": {"orient": "none", "legendX": 33, "legendY": 413, "title": null}},
   "strokeDash": {"field": "s", "type": "nominal", "scale": {"domain": ["LGM ice–core", "Prior", "Posterior–δ¹³C", "Posterior–δD", "Posterior–CH₄", "Posterior–All"], "range": [[1, 0], [6, 4], [1, 0], [1, 0], [1, 0], [1, 0]]}, "legend": {"orient": "none", "legendX": 33, "legendY": 413, "title": null}}}},
 {"data": {"name": "n"}, "transform": [{"filter": "datum.p == 6"}], "mark": {"type": "text", "align": "left", "baseline": "middle", "fontSize": 13, "color": "#000"},
  "encoding": {"x": {"field": "x", "type": "quantitative", "title": null, "scale": {"domain": [5, 25], "nice": false, "zero": false}},
   "y": {"field": "y", "type": "quantitative", "title": null, "scale": {"domain": [0, 0.25], "nice": false}}, "text": {"field": "t"}}}
]},
{"title": {"text": "Termites (Tg/yr)", "fontSize": 15}, "width": 183, "height": 91, "layer": [
 {"data": {"name": "c"}, "transform": [{"filter": "datum.p == 7 && datum.s == 'Prior'"}], "mark": {"type": "line", "strokeWidth": 1.2, "clip": true},
  "encoding": {"x": {"field": "x", "type": "quantitative", "title": null, "scale": {"domain": [5, 15], "nice": false, "zero": false}, "axis": {"values": [5, 10, 15], "format": "~r"}},
   "y": {"field": "y", "type": "quantitative", "title": null, "scale": {"domain": [0, 0.3], "nice": false}, "axis": {"values": [0, 0.1, 0.2], "format": "~r"}},
   "color": {"field": "s", "type": "nominal", "scale": {"domain": ["LGM ice–core", "Prior", "Posterior–δ¹³C", "Posterior–δD", "Posterior–CH₄", "Posterior–All"], "range": ["#b5361b", "#aaaaaa", "#808080", "#303030", "#2ee62e", "#0000dc"]}, "legend": {"orient": "none", "legendX": 33, "legendY": 413, "title": null}},
   "strokeDash": {"field": "s", "type": "nominal", "scale": {"domain": ["LGM ice–core", "Prior", "Posterior–δ¹³C", "Posterior–δD", "Posterior–CH₄", "Posterior–All"], "range": [[1, 0], [6, 4], [1, 0], [1, 0], [1, 0], [1, 0]]}, "legend": {"orient": "none", "legendX": 33, "legendY": 413, "title": null}}}},
 {"data": {"name": "c"}, "transform": [{"filter": "datum.p == 7 && datum.s != 'Prior'"}], "mark": {"type": "line", "strokeWidth": 2, "clip": true},
  "encoding": {"x": {"field": "x", "type": "quantitative", "title": null, "scale": {"domain": [5, 15], "nice": false, "zero": false}},
   "y": {"field": "y", "type": "quantitative", "title": null, "scale": {"domain": [0, 0.3], "nice": false}},
   "color": {"field": "s", "type": "nominal", "scale": {"domain": ["LGM ice–core", "Prior", "Posterior–δ¹³C", "Posterior–δD", "Posterior–CH₄", "Posterior–All"], "range": ["#b5361b", "#aaaaaa", "#808080", "#303030", "#2ee62e", "#0000dc"]}, "legend": {"orient": "none", "legendX": 33, "legendY": 413, "title": null}},
   "strokeDash": {"field": "s", "type": "nominal", "scale": {"domain": ["LGM ice–core", "Prior", "Posterior–δ¹³C", "Posterior–δD", "Posterior–CH₄", "Posterior–All"], "range": [[1, 0], [6, 4], [1, 0], [1, 0], [1, 0], [1, 0]]}, "legend": {"orient": "none", "legendX": 33, "legendY": 413, "title": null}}}},
 {"data": {"name": "n"}, "transform": [{"filter": "datum.p == 7"}], "mark": {"type": "text", "align": "left", "baseline": "middle", "fontSize": 13, "color": "#000"},
  "encoding": {"x": {"field": "x", "type": "quantitative", "title": null, "scale": {"domain": [5, 15], "nice": false, "zero": false}},
   "y": {"field": "y", "type": "quantitative", "title": null, "scale": {"domain": [0, 0.3], "nice": false}}, "text": {"field": "t"}}}
]},
{"title": {"text": "Geological (Tg/yr)", "fontSize": 15}, "width": 183, "height": 91, "layer": [
 {"data": {"name": "c"}, "transform": [{"filter": "datum.p == 8 && datum.s == 'Prior'"}], "mark": {"type": "line", "strokeWidth": 1.2, "clip": true},
  "encoding": {"x": {"field": "x", "type": "quantitative", "title": null, "scale": {"domain": [5, 15], "nice": false, "zero": false}, "axis": {"values": [5, 10, 15], "format": "~r"}},
   "y": {"field": "y", "type": "quantitative", "title": null, "scale": {"domain": [0, 0.25], "nice": false}, "axis": {"values": [0, 0.1, 0.2], "format": "~r"}},
   "color": {"field": "s", "type": "nominal", "scale": {"domain": ["LGM ice–core", "Prior", "Posterior–δ¹³C", "Posterior–δD", "Posterior–CH₄", "Posterior–All"], "range": ["#b5361b", "#aaaaaa", "#808080", "#303030", "#2ee62e", "#0000dc"]}, "legend": {"orient": "none", "legendX": 33, "legendY": 413, "title": null}},
   "strokeDash": {"field": "s", "type": "nominal", "scale": {"domain": ["LGM ice–core", "Prior", "Posterior–δ¹³C", "Posterior–δD", "Posterior–CH₄", "Posterior–All"], "range": [[1, 0], [6, 4], [1, 0], [1, 0], [1, 0], [1, 0]]}, "legend": {"orient": "none", "legendX": 33, "legendY": 413, "title": null}}}},
 {"data": {"name": "c"}, "transform": [{"filter": "datum.p == 8 && datum.s != 'Prior'"}], "mark": {"type": "line", "strokeWidth": 2, "clip": true},
  "encoding": {"x": {"field": "x", "type": "quantitative", "title": null, "scale": {"domain": [5, 15], "nice": false, "zero": false}},
   "y": {"field": "y", "type": "quantitative", "title": null, "scale": {"domain": [0, 0.25], "nice": false}},
   "color": {"field": "s", "type": "nominal", "scale": {"domain": ["LGM ice–core", "Prior", "Posterior–δ¹³C", "Posterior–δD", "Posterior–CH₄", "Posterior–All"], "range": ["#b5361b", "#aaaaaa", "#808080", "#303030", "#2ee62e", "#0000dc"]}, "legend": {"orient": "none", "legendX": 33, "legendY": 413, "title": null}},
   "strokeDash": {"field": "s", "type": "nominal", "scale": {"domain": ["LGM ice–core", "Prior", "Posterior–δ¹³C", "Posterior–δD", "Posterior–CH₄", "Posterior–All"], "range": [[1, 0], [6, 4], [1, 0], [1, 0], [1, 0], [1, 0]]}, "legend": {"orient": "none", "legendX": 33, "legendY": 413, "title": null}}}},
 {"data": {"name": "n"}, "transform": [{"filter": "datum.p == 8"}], "mark": {"type": "text", "align": "left", "baseline": "middle", "fontSize": 13, "color": "#000"},
  "encoding": {"x": {"field": "x", "type": "quantitative", "title": null, "scale": {"domain": [5, 15], "nice": false, "zero": false}},
   "y": {"field": "y", "type": "quantitative", "title": null, "scale": {"domain": [0, 0.25], "nice": false}}, "text": {"field": "t"}}}
]},
{"title": {"text": "Hydrates (Tg/yr)", "fontSize": 15}, "width": 183, "height": 91, "layer": [
 {"data": {"name": "c"}, "transform": [{"filter": "datum.p == 9 && datum.s == 'Prior'"}], "mark": {"type": "line", "strokeWidth": 1.2, "clip": true},
  "encoding": {"x": {"field": "x", "type": "quantitative", "title": null, "scale": {"domain": [0, 15], "nice": false, "zero": false}, "axis": {"values": [0, 5, 10, 15], "format": "~r"}},
   "y": {"field": "y", "type": "quantitative", "title": null, "scale": {"domain": [0, 0.3], "nice": false}, "axis": {"values": [0, 0.1, 0.2], "format": "~r"}},
   "color": {"field": "s", "type": "nominal", "scale": {"domain": ["LGM ice–core", "Prior", "Posterior–δ¹³C", "Posterior–δD", "Posterior–CH₄", "Posterior–All"], "range": ["#b5361b", "#aaaaaa", "#808080", "#303030", "#2ee62e", "#0000dc"]}, "legend": {"orient": "none", "legendX": 33, "legendY": 413, "title": null}},
   "strokeDash": {"field": "s", "type": "nominal", "scale": {"domain": ["LGM ice–core", "Prior", "Posterior–δ¹³C", "Posterior–δD", "Posterior–CH₄", "Posterior–All"], "range": [[1, 0], [6, 4], [1, 0], [1, 0], [1, 0], [1, 0]]}, "legend": {"orient": "none", "legendX": 33, "legendY": 413, "title": null}}}},
 {"data": {"name": "c"}, "transform": [{"filter": "datum.p == 9 && datum.s != 'Prior'"}], "mark": {"type": "line", "strokeWidth": 2, "clip": true},
  "encoding": {"x": {"field": "x", "type": "quantitative", "title": null, "scale": {"domain": [0, 15], "nice": false, "zero": false}},
   "y": {"field": "y", "type": "quantitative", "title": null, "scale": {"domain": [0, 0.3], "nice": false}},
   "color": {"field": "s", "type": "nominal", "scale": {"domain": ["LGM ice–core", "Prior", "Posterior–δ¹³C", "Posterior–δD", "Posterior–CH₄", "Posterior–All"], "range": ["#b5361b", "#aaaaaa", "#808080", "#303030", "#2ee62e", "#0000dc"]}, "legend": {"orient": "none", "legendX": 33, "legendY": 413, "title": null}},
   "strokeDash": {"field": "s", "type": "nominal", "scale": {"domain": ["LGM ice–core", "Prior", "Posterior–δ¹³C", "Posterior–δD", "Posterior–CH₄", "Posterior–All"], "range": [[1, 0], [6, 4], [1, 0], [1, 0], [1, 0], [1, 0]]}, "legend": {"orient": "none", "legendX": 33, "legendY": 413, "title": null}}}},
 {"data": {"name": "n"}, "transform": [{"filter": "datum.p == 9"}], "mark": {"type": "text", "align": "left", "baseline": "middle", "fontSize": 13, "color": "#000"},
  "encoding": {"x": {"field": "x", "type": "quantitative", "title": null, "scale": {"domain": [0, 15], "nice": false, "zero": false}},
   "y": {"field": "y", "type": "quantitative", "title": null, "scale": {"domain": [0, 0.3], "nice": false}}, "text": {"field": "t"}}}
]}
]
}
